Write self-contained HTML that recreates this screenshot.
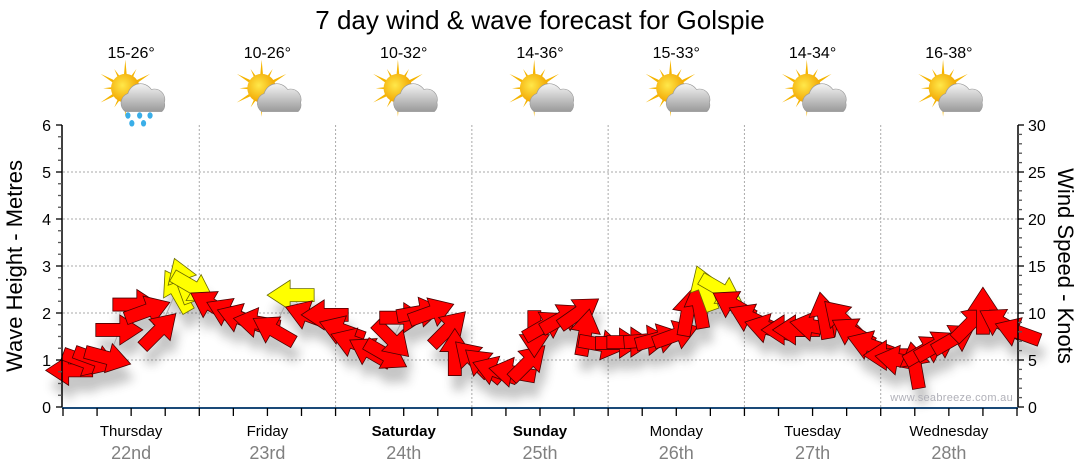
<!DOCTYPE html>
<html><head><meta charset="utf-8"><style>
body{margin:0;background:#fff;}
svg{display:block;font-family:"Liberation Sans","DejaVu Sans",sans-serif;}
</style></head><body>
<svg id="chart" width="1080" height="475" viewBox="0 0 1080 475" xmlns="http://www.w3.org/2000/svg">
<defs>
<filter id="shadow" x="-50%" y="-50%" width="200%" height="200%"><feGaussianBlur stdDeviation="5"/></filter>
<radialGradient id="sunG" cx="0.4" cy="0.4" r="0.6"><stop offset="0" stop-color="#ffe84a"/><stop offset="1" stop-color="#f2a500"/></radialGradient>
<linearGradient id="cloudG" x1="0" y1="0" x2="0" y2="1"><stop offset="0" stop-color="#f4f4f4"/><stop offset="1" stop-color="#9a9a9a"/></linearGradient>
</defs>
<text x="540" y="29" text-anchor="middle" font-size="26" fill="#000">7 day wind &amp; wave forecast for Golspie</text>
<g id="grid"></g>
<g id="forecast"></g>
<g id="marks"></g>
<g id="axes"></g>
<text transform="translate(22,266) rotate(-90)" text-anchor="middle" font-size="22" fill="#000">Wave Height - Metres</text>
<text transform="translate(1058,266) rotate(90)" text-anchor="middle" font-size="22" fill="#000">Wind Speed - Knots</text>
<text x="1013" y="401" text-anchor="end" font-size="11" fill="#b0b0b8" letter-spacing="0.3">www.seabreeze.com.au</text>
</svg>
<script>
const dayNames = ["Thursday","Friday","Saturday","Sunday","Monday","Tuesday","Wednesday"];
const dayDates = ["22nd","23rd","24th","25th","26th","27th","28th"];
const dayBold = [false,false,true,true,false,false,false];
const tempRanges = ["15-26°","10-26°","10-32°","14-36°","15-33°","14-34°","16-38°"];
const rainDays = [true,false,false,false,false,false,false];
const waveTicks = [0,1,2,3,4,5,6];
const windTicks = [0,5,10,15,20,25,30];
const hours = [1,4,6,8,10,13,15,17,20,21,23,26,29,31,34,37,40,43,46,49,51,54,57,58,60,63,65,68,69,72,74,76,79,82,83,85,88,91,92,95,98,100,103,105,108,110,112,113,116,118,121,124,127,129,132,134,137,139,142,145,147,150,152,154,157,160,162,165,168];
const knots = [3.9,4.8,5.0,5.2,8.2,10.9,10.3,8.2,12.4,13.5,12.7,10.9,10.1,9.5,9.0,8.2,11.9,9.8,9.8,8.2,6.9,5.9,5.5,7.1,9.5,10.1,10.1,8.4,5.9,5.2,4.5,3.9,3.7,4.8,7.7,8.7,9.5,10.1,8.0,6.6,6.8,6.9,7.1,7.3,7.7,10.1,10.9,12.7,12.4,10.9,9.5,8.4,8.2,8.2,8.6,9.8,9.5,8.0,6.6,5.5,5.0,4.5,6.1,6.6,7.3,9.0,10.3,9.0,8.0];
const dirs = [180,20,20,15,0,0,-20,-45,-120,-110,30,-150,-155,-160,-170,-150,180,-160,180,-160,-160,-150,30,45,0,-10,-20,-45,-90,-135,-140,-160,-170,-45,90,-30,-30,-35,-80,10,0,0,-5,-15,-20,-80,-100,-110,30,-150,-155,-165,180,180,-170,-100,-135,-150,-160,180,-170,-100,-30,-30,-30,-45,-90,-150,-160];

const NS="http://www.w3.org/2000/svg";
const X0=63,X1=1017,Y0=407,Y1=125;
const xH=h=>X0+h*(X1-X0)/168;
const yM=m=>Y0-m*(Y0-Y1)/6;
const yK=k=>Y0-k*(Y0-Y1)/30;
function mk(tag,attrs,parent){const e=document.createElementNS(NS,tag);for(const k in attrs)e.setAttribute(k,attrs[k]);parent.appendChild(e);return e;}
const grid=document.getElementById('grid'),axes=document.getElementById('axes'),marks=document.getElementById('marks'),fc=document.getElementById('forecast');

waveTicks.forEach(t=>{if(t>0&&t<6){const l=mk('line',{x1:X0,x2:X1,y1:yM(t),y2:yM(t),stroke:'#aaa','stroke-dasharray':'2,2'},grid);

}});
for(let d=1;d<7;d++){const l=mk('line',{x1:xH(d*24),x2:xH(d*24),y1:Y1,y2:Y0,stroke:'#aaa','stroke-dasharray':'2,2'},grid);

}

mk('line',{x1:X0-1,x2:X0-1,y1:Y1,y2:Y0,stroke:'#000','stroke-width':1.5},axes);
mk('line',{x1:X1+1,x2:X1+1,y1:Y1,y2:Y0,stroke:'#000','stroke-width':1.5},axes);
mk('line',{x1:X0-1,x2:X1+1,y1:Y0+1,y2:Y0+1,stroke:'#1a4a78','stroke-width':2},axes);
for(let i=0;i<=24;i++){const v=i/4,y=yM(v),maj=i%4===0;
mk('line',{x1:X0-(maj?7:5),x2:X0-1,y1:y,y2:y,stroke:maj?'#000':'#555','stroke-width':1.3},axes);}
for(let i=0;i<=30;i++){const y=yK(i),maj=i%5===0;
mk('line',{x1:X1+1,x2:X1+(maj?7:5),y1:y,y2:y,stroke:maj?'#000':'#555','stroke-width':1.3},axes);}
waveTicks.forEach(t=>{const e=mk('text',{x:51,y:yM(t)+6,'text-anchor':'end','font-size':16},axes);e.textContent=t;

});
windTicks.forEach(t=>{const e=mk('text',{x:1028,y:yK(t)+6,'text-anchor':'start','font-size':16},axes);e.textContent=t;

});
for(let h=0;h<=168;h+=6){mk('line',{x1:xH(h),x2:xH(h),y1:Y0+1,y2:Y0+9,stroke:'#000','stroke-width':1.3},axes);}
dayNames.forEach((n,i)=>{const cx=xH(i*24+12);
const a=mk('text',{x:cx,y:436,'text-anchor':'middle','font-size':15,'font-weight':dayBold[i]?'bold':'normal'},axes);a.textContent=n;


const b=mk('text',{x:cx,y:459,'text-anchor':'middle','font-size':18,fill:'#808080'},axes);b.textContent=dayDates[i];


const t=mk('text',{x:cx,y:58,'text-anchor':'middle','font-size':16},fc);t.textContent=tempRanges[i];


const g=mk('g',{transform:`translate(${cx+2},${96}) scale(1.3)`},fc);


for(let r=0;r<12;r++){const ang=r*30,len=r%2?17:22;
mk('polygon',{points:`-2,0 2,0 0,-${len}`,fill:'#f5b400',transform:`translate(-6,-6) rotate(${ang})`},g);}
mk('circle',{cx:-6,cy:-6,r:11,fill:'url(#sunG)'},g);
mk('path',{d:'M-6,12 a8,8 0 0 1 2,-14 a10,10 0 0 1 18,-3 a8,8 0 0 1 10,10 a7,7 0 0 1 -2,7 z',fill:'url(#cloudG)',stroke:'#999','stroke-width':0.5},g);
if(rainDays[i]){[[-4,15],[5,15],[13,15],[-1,21],[8,21]].forEach(p=>mk('ellipse',{cx:p[0],cy:p[1],rx:2,ry:2.5,fill:'#3aaee8'},g));}
});

const sh=mk('g',{filter:'url(#shadow)',opacity:0.28},marks);
const path=hours.map((h,i)=>`${i?'L':'M'}${xH(h).toFixed(1)},${yK(knots[i]).toFixed(1)}`).join('');
const ln=mk('path',{d:path,fill:'none',stroke:'#aaa','stroke-width':1},marks);


const arrowPts='-24,-6.5 0,-6.5 0,-15 23,0 0,15 0,6.5 -24,6.5';
hours.forEach((h,i)=>{const x=xH(h),y=yK(knots[i]);
mk('polygon',{points:arrowPts,fill:'#333',transform:`translate(${x+4},${y+15}) rotate(${dirs[i]})`},sh);});
hours.forEach((h,i)=>{const x=xH(h),y=yK(knots[i]);
const p=mk('polygon',{points:arrowPts,fill:knots[i]>=11.8?'#ffff00':'#ff0000',stroke:knots[i]>=11.8?'#6a6a00':'#4a0000','stroke-width':0.8,transform:`translate(${x},${y}) rotate(${dirs[i]})`},marks);

});
</script>
</body></html>
